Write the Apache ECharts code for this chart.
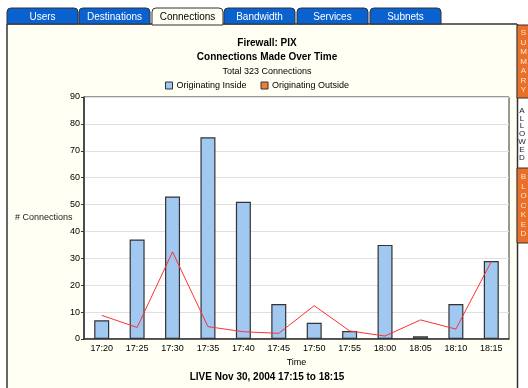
<!DOCTYPE html>
<html><head><meta charset="utf-8">
<script src="https://cdn.jsdelivr.net/npm/echarts@6/dist/echarts.min.js"></script>
<style>html,body{margin:0;padding:0;background:#fff}#c{width:528px;height:388px}</style>
</head><body><div id="c"></div>
<script>
const categories = ['17:20','17:25','17:30','17:35','17:40','17:45','17:50','17:55','18:00','18:05','18:10','18:15'];
const insideValues = [7, 37, 53, 75, 51, 13, 6, 3, 35, 1, 13, 29];
const outsideValues = [8.8, 4.3, 32.4, 4.6, 2.7, 2.1, 12.4, 3.0, 1.1, 7.1, 3.7, 28.8];
const yTicks = [0, 10, 20, 30, 40, 50, 60, 70, 80, 90];
const tabNames = ['Users','Destinations','Connections','Bandwidth','Services','Subnets'];
const activeTab = 'Connections';

const FONT = 'Liberation Sans';
const tabX = [7, 79, 152, 224, 297, 370];
const tabW = 71;
const graphics = [];
// panel background
graphics.push({type:'rect', shape:{x:7, y:24, width:510, height:370}, style:{fill:'#FFFFF4'}, z:-10});
// tabs
tabNames.forEach((n, i) => {
  const active = n === activeTab;
  graphics.push({type:'rect', shape:{x:tabX[i], y:8, width:tabW, height:active?17:16, r:[4,4,0,0]},
    style:{fill: active ? '#FFFFF4' : '#0A62D0', stroke:'#333', lineWidth:1}, z:5});
  graphics.push({type:'text', x:tabX[i]+tabW/2, y:17, style:{text:n, fill: active ? '#000' : '#fff',
    font:'10px ' + FONT, align:'center', verticalAlign:'middle'}, z:6});
});
// panel borders
graphics.push({type:'line', shape:{x1:7, y1:24, x2:152, y2:24}, style:{stroke:'#333', lineWidth:1.5}, z:4});
graphics.push({type:'line', shape:{x1:223, y1:24, x2:517, y2:24}, style:{stroke:'#333', lineWidth:1.5}, z:4});
graphics.push({type:'line', shape:{x1:7, y1:24, x2:7, y2:388}, style:{stroke:'#333', lineWidth:1.5}, z:4});
graphics.push({type:'line', shape:{x1:517.5, y1:24, x2:517.5, y2:388}, style:{stroke:'#333', lineWidth:1.5}, z:4});
// side tabs
function sideTab(label, y, h) {
  graphics.push({type:'rect', shape:{x:517, y:y, width:14, height:h}, style:{fill:'#E8702A', stroke:'#333', lineWidth:1}, z:5});
  graphics.push({type:'text', x:523.5, y:y+h/2, style:{text:label.split('').join('\n'), fill:'#FFE8D0',
    font:'8px ' + FONT, align:'center', verticalAlign:'middle', lineHeight:9.5}, z:6});
}
sideTab('SUMMARY', 25, 73);
sideTab('BLOCKED', 168, 75);
graphics.push({type:'text', x:522, y:134, style:{text:'ALLOWED'.split('').join('\n'), fill:'#222',
  font:'8px ' + FONT, align:'center', verticalAlign:'middle', lineHeight:7.8}, z:6});
// y axis name
graphics.push({type:'text', x:15, y:218, style:{text:'# Connections', fill:'#222', font:'9px ' + FONT, align:'left', verticalAlign:'middle'}, z:6});

const chart = echarts.init(document.getElementById('c'));
chart.setOption({
  animation:false,
  backgroundColor:'#fff',
  textStyle:{fontFamily:FONT},
  title:[
    {text:'Firewall: PIX', left:262, top:33, textAlign:'center', textStyle:{fontSize:10, fontWeight:'bold', color:'#000', fontFamily:FONT}},
    {text:'Connections Made Over Time', left:262, top:47, textAlign:'center', textStyle:{fontSize:10, fontWeight:'bold', color:'#000', fontFamily:FONT}},
    {text:'Total 323 Connections', left:262, top:62, textAlign:'center', textStyle:{fontSize:9, fontWeight:'normal', color:'#000', fontFamily:FONT}},
    {text:'LIVE Nov 30, 2004 17:15 to 18:15', left:262, top:367, textAlign:'center', textStyle:{fontSize:10, fontWeight:'bold', color:'#000', fontFamily:FONT}}
  ],
  legend:{
    top:76, left:160, itemWidth:7, itemHeight:7, itemGap:14,
    textStyle:{fontSize:9, color:'#000', fontFamily:FONT, padding:[0,0,0,-1]},
    data:[
      {name:'Originating Inside', icon:'rect', itemStyle:{color:'#A0C8F0', borderColor:'#333', borderWidth:1}},
      {name:'Originating Outside', icon:'rect', itemStyle:{color:'#F08030', borderColor:'#333', borderWidth:1}, lineStyle:{width:0}}
    ]
  },
  grid:{left:84, right:19, top:97, bottom:49, show:true, backgroundColor:'#fff', borderColor:'#333', borderWidth:1},
  xAxis:{
    type:'category', data:categories, name:'Time', nameLocation:'middle', nameGap:19,
    nameTextStyle:{fontSize:9, color:'#000', fontFamily:FONT},
    axisLine:{lineStyle:{color:'#333', width:1.5}}, axisTick:{show:false},
    axisLabel:{fontSize:9, color:'#000', margin:5, fontFamily:FONT}
  },
  yAxis:{
    type:'value', min:0, max:90, interval:10,
    axisLine:{show:true, lineStyle:{color:'#333', width:1.5}},
    axisTick:{show:true, length:3, lineStyle:{color:'#333'}},
    axisLabel:{fontSize:9, color:'#000', margin:4, fontFamily:FONT},
    splitLine:{lineStyle:{color:'#E0E0E0'}}
  },
  series:[
    {name:'Originating Inside', type:'bar', data:insideValues, barWidth:15,
      itemStyle:{color:'#A0C8F0', borderColor:'#333', borderWidth:1.2}},
    {name:'Originating Outside', type:'line', data:outsideValues, showSymbol:false, symbol:'none',
      lineStyle:{color:'#FF3030', width:1}, itemStyle:{color:'#F08030'}}
  ],
  graphic: graphics
});
</script></body></html>
